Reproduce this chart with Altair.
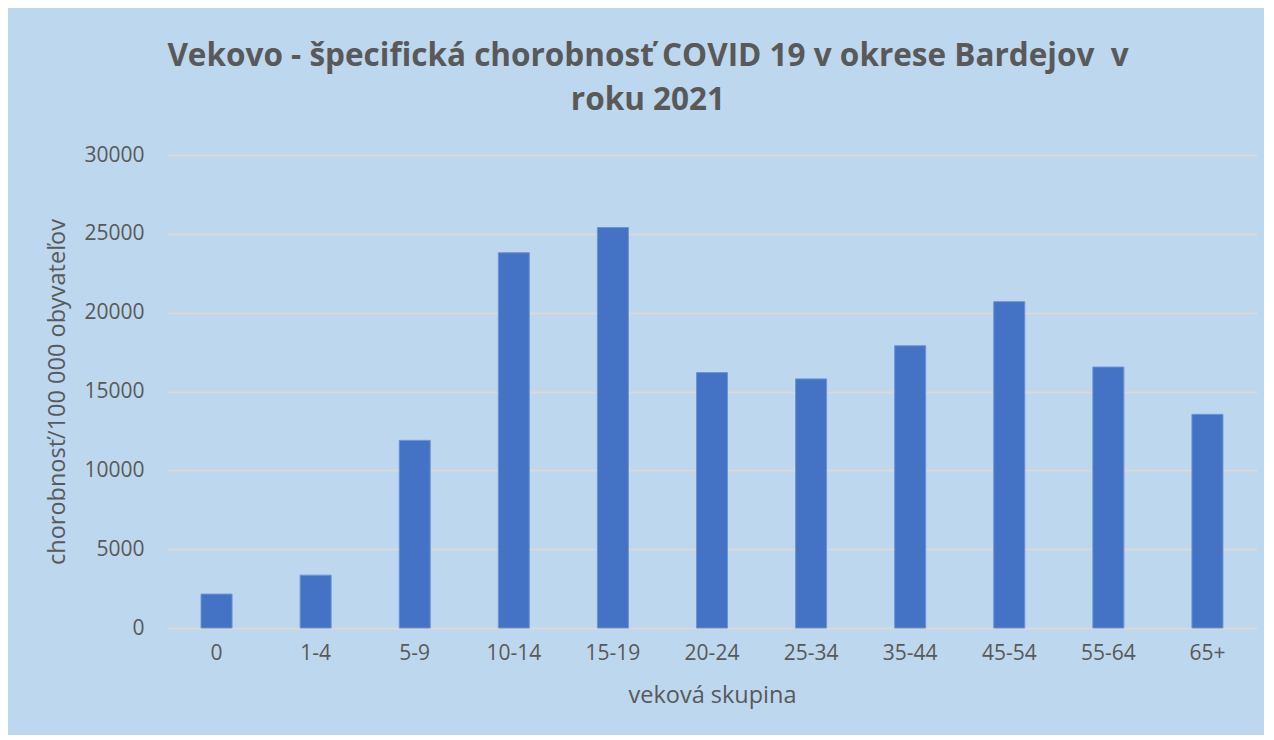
import altair as alt
import pandas as pd

groups = ["0", "1-4", "5-9", "10-14", "15-19", "20-24", "25-34", "35-44", "45-54", "55-64", "65+"]
values = [2150, 3350, 11900, 23800, 25400, 16200, 15800, 17900, 20700, 16550, 13550]

df = pd.DataFrame({"skupina": groups, "hodnota": values})

FONT = "Open Sans"
GREY = "#595959"

bars = alt.Chart(df).mark_bar(color="#4472C4", stroke="#6E93D3", strokeWidth=1).encode(
    x=alt.X("skupina:N", sort=groups,
            scale=alt.Scale(paddingInner=0.687, paddingOuter=0.3435),
            axis=alt.Axis(title="veková skupina", labelAngle=0, labelFontSize=21,
                          labelColor=GREY, labelFont=FONT, labelPadding=14,
                          titleFont=FONT, titleFontSize=23.5, titleFontWeight="normal",
                          titleColor=GREY, titlePadding=20, ticks=False, domain=False)),
    y=alt.Y("hodnota:Q",
            scale=alt.Scale(domain=[0, 30000]),
            axis=alt.Axis(title="chorobnosť/100 000 obyvateľov", values=[0, 5000, 10000, 15000, 20000, 25000, 30000],
                          format="d", labelFontSize=21, labelColor=GREY, labelFont=FONT,
                          labelPadding=23, titleFont=FONT, titleFontSize=23.5,
                          titleFontWeight="normal", titleColor=GREY, titlePadding=14,
                          ticks=False, domain=False, gridColor="#D9D9D9", gridWidth=2)),
)

chart = bars.properties(
    width=1090,
    height=473,
    padding={"left": 159, "top": 147, "right": 7, "bottom": 107},
    autosize=alt.AutoSizeParams(type="none"),
    title=alt.Title(["Vekovo - špecifická chorobnosť COVID 19 v okrese Bardejov\u00a0 v", "roku 2021"],
                    font=FONT, fontSize=31.5, fontWeight="bold", color=GREY,
                    anchor="middle", frame="group", dx=-64, offset=28, lineHeight=44),
).configure(background="#BDD7EE").configure_view(strokeWidth=0)

chart.save("out.html", embed_options={"renderer": "svg", "actions": False})
